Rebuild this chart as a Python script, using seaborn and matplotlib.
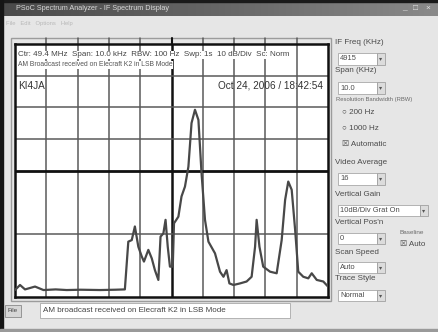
import numpy as np
import pandas as pd
import matplotlib
matplotlib.use("Agg")
import matplotlib.pyplot as plt
from matplotlib.patches import Rectangle
import seaborn as sns

# ---------------- data ----------------
freq_khz = [0.00, 0.16, 0.32, 0.64, 0.91, 1.30, 1.65, 2.10, 2.72, 3.20, 3.51,
            3.62, 3.73, 3.83, 3.94, 4.05, 4.12, 4.26, 4.37, 4.47, 4.58,
            4.65, 4.74, 4.81, 4.88, 4.95, 5.04, 5.08, 5.22, 5.32, 5.43,
            5.54, 5.64, 5.75, 5.86, 5.96, 6.07, 6.18, 6.39, 6.55, 6.66,
            6.76, 6.85, 6.98, 7.19, 7.40, 7.56, 7.67, 7.72, 7.81, 7.93,
            8.15, 8.36, 8.52, 8.63, 8.73, 8.84, 8.95, 9.05, 9.21, 9.37,
            9.48, 9.64, 9.85, 10.00]
level_db = [-77.8, -76.2, -77.6, -76.7, -77.8, -77.6, -77.8, -77.7, -77.8, -77.7, -77.6,
            -62.5, -62.0, -57.7, -64.1, -67.2, -68.8, -65.1, -67.8, -71.5, -74.6,
            -60.9, -59.9, -55.6, -64.1, -70.4, -70.4, -56.7, -54.6, -48.2, -45.1,
            -38.8, -25.0, -20.8, -24.0, -40.9, -55.6, -62.5, -66.2, -72.0, -73.6,
            -71.5, -75.7, -76.2, -75.7, -75.1, -73.6, -64.1, -55.6, -64.1, -70.4,
            -72.0, -72.5, -62.0, -49.3, -43.5, -46.1, -58.8, -72.0, -73.6, -74.1,
            -72.5, -74.6, -75.1, -76.7]

v_grid = [1, 2, 3, 4, 6, 7, 8, 9]
h_grid = [-10, -20, -30, -60]
center_v = 5
center_h = -40

title_text = "PSoC Spectrum Analyzer - IF Spectrum Display"
menu_text = "File   Edit   Options   Help"
header1 = "Ctr: 49.4 MHz  Span: 10.0 kHz  RBW: 100 Hz  Swp: 1s  10 dB/Div  Sc: Norm"
header2 = "AM Broadcast received on Elecraft K2 in LSB Mode"
callsign = "KI4JA"
stamp = "Oct 24, 2006 / 18:42:54"
note_text = "AM broadcast received on Elecraft K2 in LSB Mode"

# ---------------- figure ----------------
sns.set_style("white")
plt.rcParams["font.family"] = ["Liberation Sans", "DejaVu Sans"]
W, H = 439, 332
fig = plt.figure(figsize=(W / 100, H / 100), dpi=100)
fig.patch.set_facecolor("#e6e6e6")

bg = fig.add_axes([0, 0, 1, 1], zorder=0)
bg.set_xlim(0, W)
bg.set_ylim(H, 0)
bg.axis("off")

# title bar gradient
grad = np.linspace(0, 1, 200)[None, :]
bg.imshow(np.vstack([grad] * 4), extent=[0, W, 16, 0], aspect="auto",
          cmap=matplotlib.colors.LinearSegmentedColormap.from_list(
              "tb", ["#4a4a4a", "#666666", "#8a8a8a"]), zorder=1)
bg.add_patch(Rectangle((0, 0), W, 2, color="#1a1a1a", zorder=2))
bg.text(16, 9, title_text, fontsize=5.2, color="#d8d8d8", va="center", zorder=3)
for i, s in enumerate(["_", "□", "×"]):
    bg.text(404 + i * 12, 8, s, fontsize=6, color="#e0e0e0", va="center",
            ha="center", zorder=3)
bg.text(6, 23, menu_text, fontsize=4.2, color="#b8b8b8", va="center", zorder=3)

# window borders
bg.add_patch(Rectangle((0, 0), 3, H, color="#151515", zorder=2))
bg.add_patch(Rectangle((0, H - 3), W, 3, color="#9a9a9a", zorder=2))

# plot frame
bg.add_patch(Rectangle((11, 38), 320, 263, facecolor="none",
                       edgecolor="#9c9c9c", lw=1.0, zorder=2))

# ---------------- spectrum axes ----------------
x0, x1, y0, y1 = 15, 328, 44, 297
ax = fig.add_axes([x0 / W, 1 - y1 / H, (x1 - x0) / W, (y1 - y0) / H], zorder=2)
ax.set_facecolor("white")
df = pd.DataFrame({"freq": freq_khz, "level": level_db})
for v in v_grid:
    ax.axvline(v, color="#5a5a5a", lw=1.1, zorder=1)
    ax.plot([v, v], [0, 2], color="#5a5a5a", lw=1.1, clip_on=False)
ax.axvline(center_v, color="#111111", lw=1.8, zorder=1)
ax.plot([center_v, center_v], [0, 2], color="#111111", lw=1.5, clip_on=False)
for h in h_grid:
    ax.axhline(h, color="#5a5a5a", lw=1.1, zorder=1)
ax.axhline(center_h, color="#111111", lw=2.0, zorder=1)
sns.lineplot(data=df, x="freq", y="level", ax=ax, color="#484848",
             lw=1.6, zorder=3, sort=False)
ax.set_xlim(0, 10)
ax.set_ylim(-80, 0)
ax.set_xticks([])
ax.set_yticks([])
ax.set_xlabel("")
ax.set_ylabel("")
for sp in ax.spines.values():
    sp.set_visible(True)
    sp.set_color("#111111")
    sp.set_linewidth(1.8)

ax.text(0.08, -3.4, header1, fontsize=5.8, color="#444444", va="center",
        zorder=4, bbox=dict(facecolor="white", edgecolor="none", pad=0.3))
ax.text(0.08, -6.6, header2, fontsize=4.9, color="#555555", va="center",
        zorder=4, bbox=dict(facecolor="white", edgecolor="none", pad=0.3))
ax.text(0.1, -13.2, callsign, fontsize=7.2, color="#333333", va="center", zorder=4)
ax.text(9.85, -13.2, stamp, fontsize=7.2, color="#333333", va="center",
        ha="right", zorder=4)

# ---------------- right control panel ----------------
lab = dict(fontsize=5.8, color="#4a4a4a", va="center", zorder=3)


def box(x, y, w, h, txt, btn=True):
    bg.add_patch(Rectangle((x, y), w, h, facecolor="white",
                           edgecolor="#a8a8a8", lw=0.6, zorder=2))
    bg.text(x + 2, y + h / 2, txt, fontsize=5.4, color="#4a4a4a",
            va="center", zorder=3)
    if btn:
        bg.add_patch(Rectangle((x + w, y), 8, h, facecolor="#dcdcdc",
                               edgecolor="#a0a0a0", lw=0.6, zorder=2))
        bg.text(x + w + 4, y + h / 2, "▾", fontsize=4.5, color="#555555",
                ha="center", va="center", zorder=3)


bg.text(335, 43, "IF Freq (KHz)", **lab)
box(338, 53, 39, 12, "4915")
bg.text(335, 71, "Span (KHz)", **lab)
box(338, 82, 39, 12, "10.0")
bg.text(336, 100, "Resolution Bandwidth (RBW)", fontsize=4.2, color="#6a6a6a",
        va="center", zorder=3)
bg.text(342, 113, "○ 200 Hz", **lab)
bg.text(342, 128, "○ 1000 Hz", **lab)
bg.text(342, 144, "☒ Automatic", **lab)
bg.text(335, 163, "Video Average", **lab)
box(338, 173, 39, 12, "16")
bg.text(335, 195, "Vertical Gain", **lab)
box(338, 205, 82, 11, "10dB/Div Grat On")
bg.text(335, 223, "Vertical Pos'n", **lab)
box(338, 233, 39, 11, "0")
bg.text(400, 232, "Baseline", fontsize=4.6, color="#6a6a6a", va="center", zorder=3)
bg.text(400, 244, "☒ Auto", **lab)
bg.text(335, 252, "Scan Speed", **lab)
box(338, 262, 39, 11, "Auto")
bg.text(335, 279, "Trace Style", **lab)
box(338, 290, 39, 11, "Normal")

# ---------------- bottom ----------------
bg.add_patch(Rectangle((5, 305), 16, 12, facecolor="#d6d6d6",
                       edgecolor="#8a8a8a", lw=0.6, zorder=2))
bg.text(13, 311, "File", fontsize=4.6, color="#444444", ha="center",
        va="center", zorder=3)
bg.add_patch(Rectangle((40, 303), 250, 15, facecolor="white",
                       edgecolor="#a8a8a8", lw=0.6, zorder=2))
bg.text(43, 310.5, note_text, fontsize=5.8, color="#444444", va="center", zorder=3)

fig.savefig("out.png", dpi=100)
